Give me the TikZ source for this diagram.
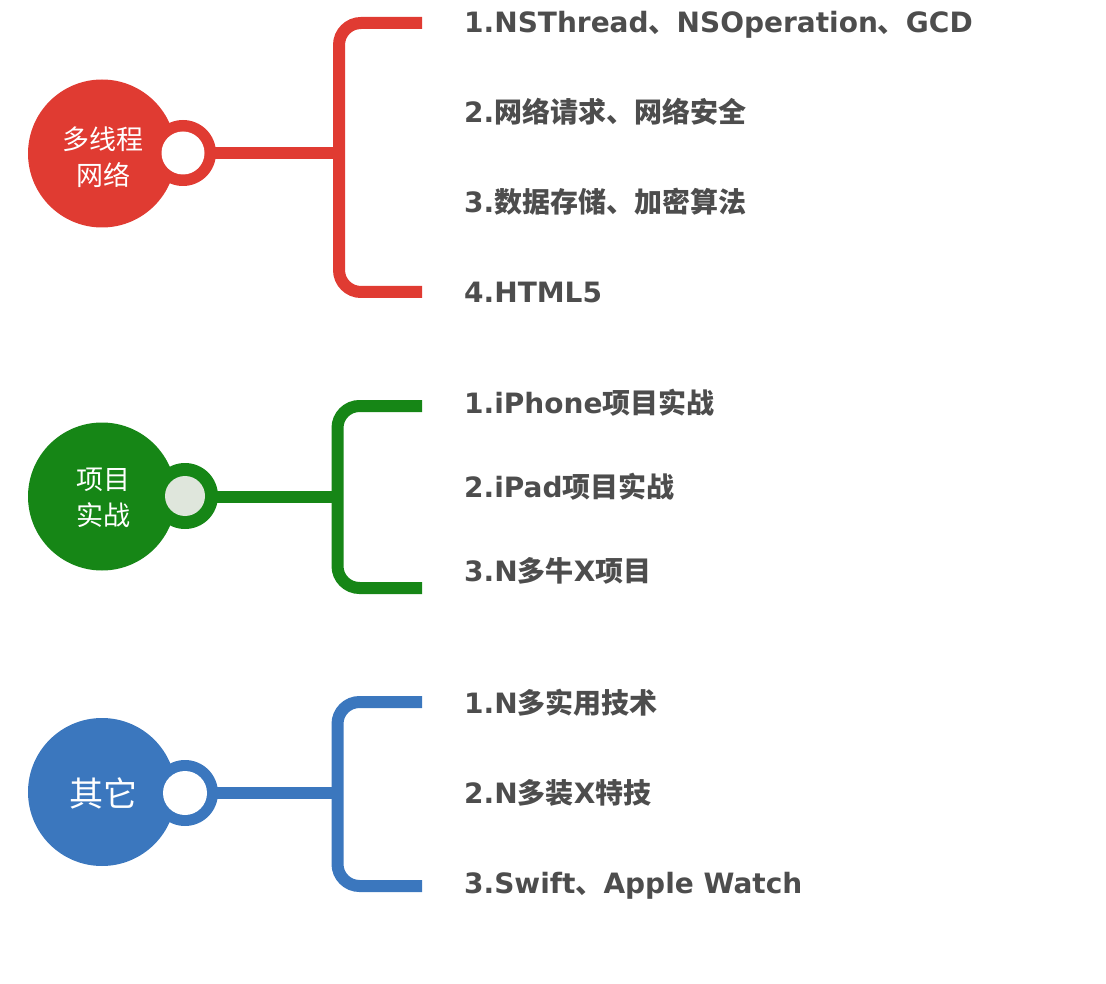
\documentclass[tikz,border=0pt]{standalone}
\usepackage{fontspec}
\setmainfont{DejaVu Sans}
\newfontfamily\cjk{Noto Sans CJK SC}
\newcommand{\zh}[1]{{\cjk #1}}
\definecolor{cred}{RGB}{224,59,50}
\definecolor{cgreen}{RGB}{22,134,22}
\definecolor{cblue}{RGB}{59,119,190}
\definecolor{ctext}{RGB}{77,77,77}
\definecolor{cpale}{RGB}{223,230,220}
\begin{document}
\begin{tikzpicture}[x=1pt,y=-1pt,
  hub/.style={circle,fill=#1,minimum size=148pt,inner sep=0pt},
  hubtext/.style={text=white,inner sep=0pt,font=\cjk\fontsize{27}{36}\selectfont,align=center},
  knob/.style={circle,fill=#1,minimum size=66pt,inner sep=0pt},
  knobin/.style={circle,fill=#1,minimum size=43pt,inner sep=0pt},
  item/.style={anchor=base west,text=ctext,font=\bfseries\fontsize{28}{34}\selectfont,inner sep=0pt},
  branch/.style={draw=#1,line width=12pt,rounded corners=22pt},
  stem/.style={draw=#1,line width=12pt}]
\useasboundingbox (0,0) rectangle (1106,984);

% ---------- red group ----------
\node[hub=cred] (h1) at (102,153.5) {};
\node[hubtext] (h1t) at (103,157) {多线程\\网络};
\coordinate (b1) at (339,153);
\coordinate (b1t) at (422,23);
\coordinate (b1b) at (422,292);
\draw[stem=cred] (183,153) -- (b1);
\draw[branch=cred] (b1t) -- (339,23) -- (339,292) -- (b1b);
\node[knob=cred] (k1) at (183,153) {};
\node[knobin=white] (k1i) at (k1) {};
\node[item] (r1) at (464,33) {1.NSThread\zh{、}NSOperation\zh{、}GCD};
\node[item] (r2) at (464,123) {2.\zh{网络请求、网络安全}};
\node[item] (r3) at (464,213) {3.\zh{数据存储、加密算法}};
\node[item] (r4) at (464,303) {4.HTML5};

% ---------- green group ----------
\node[hub=cgreen] (h2) at (102,496.5) {};
\node[hubtext] (h2t) at (103,498) {项目\\实战};
\coordinate (b2) at (337.5,497);
\coordinate (b2t) at (422,406);
\coordinate (b2b) at (422,588);
\draw[stem=cgreen] (185,497) -- (b2);
\draw[branch=cgreen] (b2t) -- (337.5,406) -- (337.5,588) -- (b2b);
\node[knob=cgreen] (k2) at (185,496) {};
\node[knobin=cpale,minimum size=40pt] (k2i) at (k2) {};
\node[item] (g1) at (464,413) {1.iPhone\zh{项目实战}};
\node[item] (g2) at (464,497) {2.iPad\zh{项目实战}};
\node[item] (g3) at (464,581) {3.N\zh{多牛}X\zh{项目}};

% ---------- blue group ----------
\node[hub=cblue] (h3) at (102,792) {};
\node[hubtext,font=\cjk\fontsize{34}{40}\selectfont] (h3t) at (103,793) {其它};
\coordinate (b3) at (337.5,793);
\coordinate (b3t) at (422,702);
\coordinate (b3b) at (422,886);
\draw[stem=cblue] (185,793) -- (b3);
\draw[branch=cblue] (b3t) -- (337.5,702) -- (337.5,886) -- (b3b);
\node[knob=cblue] (k3) at (185,793) {};
\node[knobin=white,minimum size=44pt] (k3i) at (k3) {};
\node[item] (u1) at (464,713) {1.N\zh{多实用技术}};
\node[item] (u2) at (464,803) {2.N\zh{多装}X\zh{特技}};
\node[item] (u3) at (464,893) {3.Swift\zh{、}Apple Watch};
\end{tikzpicture}
\end{document}
